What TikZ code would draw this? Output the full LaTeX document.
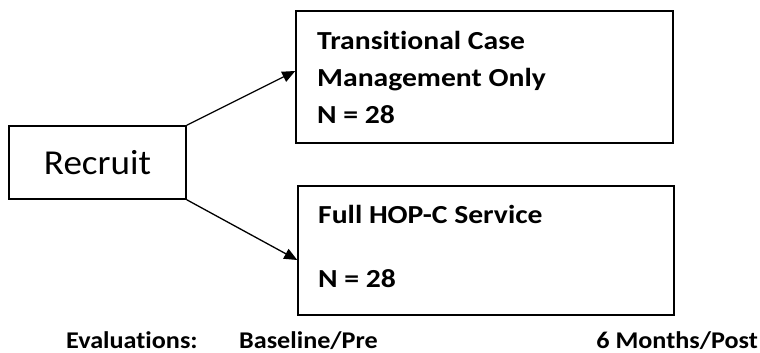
\documentclass[tikz,border=0pt]{standalone}
\usepackage{fontspec}
\setmainfont{Carlito}
\newfontfamily\boxfont[FakeStretch=1.14,Ligatures=NoCommon]{Carlito}
\newfontfamily\evalfont[FakeStretch=1.09,Ligatures=NoCommon]{Carlito}
\newfontfamily\recfont[FakeStretch=1.06]{Carlito}
\usetikzlibrary{arrows.meta}
\begin{document}
\begin{tikzpicture}[x=1pt,y=-1pt,
  box/.style={draw,line width=1.5pt,rectangle,inner sep=0pt},
  lbl/.style={font=\boxfont\fontsize{26}{26}\selectfont\bfseries,anchor=base west,inner sep=0pt},
  evl/.style={font=\evalfont\fontsize{24}{24}\selectfont\bfseries,anchor=base west,inner sep=0pt},
  conn/.style={line width=1.3pt,-{Triangle[length=13pt,width=11pt]}}]
\useasboundingbox (0,0) rectangle (760,353);
\node[box,minimum width=177pt,minimum height=73pt] (rec) at (97.5,162.5) {};
\node[font=\recfont\fontsize{35}{35}\selectfont,anchor=base,inner sep=0pt] (rectxt) at (97.5,174) {Recruit};
\node[box,minimum width=377pt,minimum height=132pt] (top) at (484.5,77) {};
\node[box,minimum width=376pt,minimum height=129pt] (bot) at (486,250.5) {};
\node[lbl] (t1a) at (317,49) {Transitional Case};
\node[lbl] (t1b) at (317,86) {Management Only};
\node[lbl] (t1c) at (317,123) {N = 28};
\node[lbl] (t2a) at (318,223) {Full HOP-C Service};
\node[lbl] (t2b) at (318,287) {N = 28};
\node[evl] (ev) at (66,348) {Evaluations:};
\node[evl] (bp) at (239,348) {Baseline/Pre};
\node[evl,anchor=base east] (mp) at (758,348) {6 Months/Post};
\draw[conn] (rec.north east) -- ([yshift=6pt]top.west);
\draw[conn] (rec.south east) -- ([yshift=-9.5pt]bot.west);
\end{tikzpicture}
\end{document}
